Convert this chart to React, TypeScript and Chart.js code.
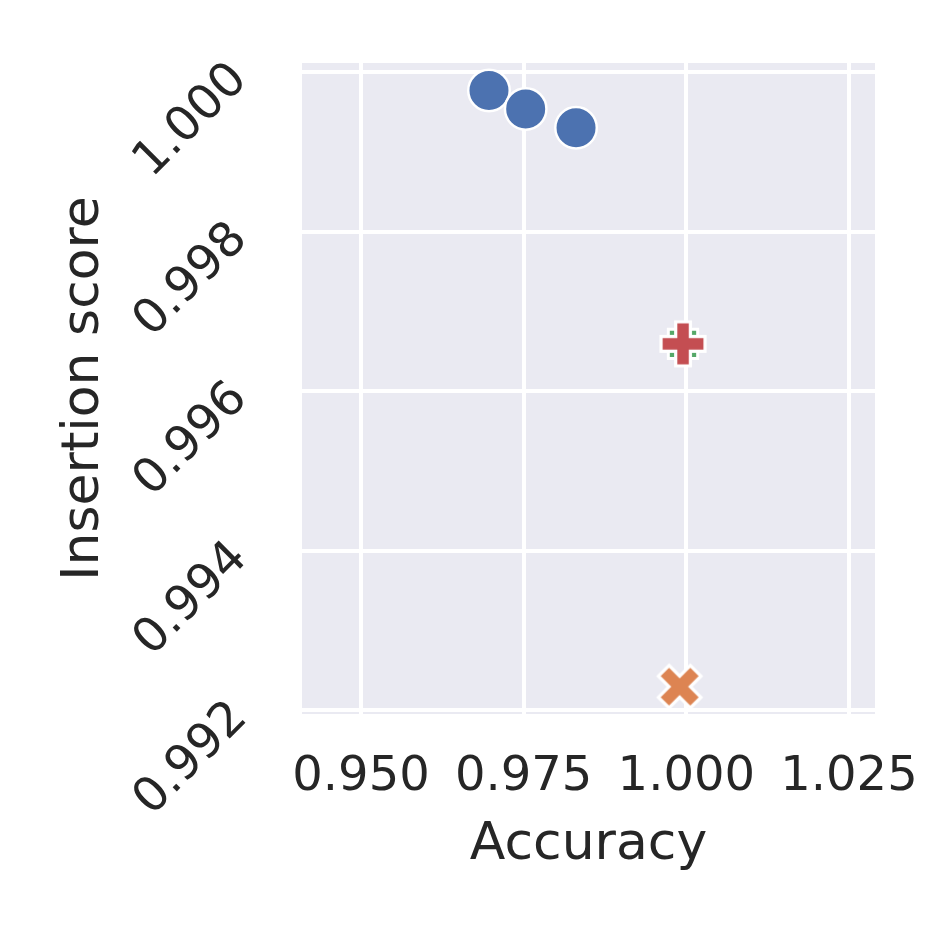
import React, { useEffect, useRef } from "react";
import { Chart, registerables } from "chart.js";

Chart.register(...registerables);

// ---- data ----
const xTicks = [0.95, 0.975, 1.0, 1.025];
const yTicks = [0.992, 0.994, 0.996, 0.998, 1.0];
const xRange = [0.94093, 1.029];
const yRange = [0.991956, 1.000118];

const circleAcc = [0.96967, 0.97531, 0.98305];
const circleIns = [0.999773, 0.999542, 0.999306];
const crossAcc = [0.99898];
const crossIns = [0.992299];
const squareAcc = [0.99949];
const squareIns = [0.996597];
const plusAcc = [0.99949];
const plusIns = [0.996597];

const xTitle = "Accuracy";
const yTitle = "Insertion score";

// ---- styles ----
const BLUE = "#4C72B0";
const ORANGE = "#DD8452";
const GREEN = "#55A868";
const RED = "#C44E52";
const TEXT = "#262626";
const BG = "#EAEAF2";
const FONT = "'DejaVu Sans', sans-serif";

const X_PATH = [[-1, -2], [0, -1], [1, -2], [2, -1], [1, 0], [2, 1], [1, 2], [0, 1], [-1, 2], [-2, 1], [-1, 0], [-2, -1]];
const P_PATH = [[-1, -3], [1, -3], [1, -1], [3, -1], [3, 1], [1, 1], [1, 3], [-1, 3], [-1, 1], [-3, 1], [-3, -1], [-1, -1]];

function makeMarker(path: number[][], unit: number, fill: string, lw: number) {
  const c = document.createElement("canvas");
  c.width = 64;
  c.height = 64;
  const ctx = c.getContext("2d")!;
  ctx.translate(32, 32);
  ctx.beginPath();
  path.forEach(([px, py], i) => {
    if (i === 0) ctx.moveTo(px * unit, py * unit);
    else ctx.lineTo(px * unit, py * unit);
  });
  ctx.closePath();
  ctx.fillStyle = fill;
  ctx.fill();
  ctx.lineWidth = lw;
  ctx.lineJoin = "miter";
  ctx.strokeStyle = "#ffffff";
  ctx.stroke();
  return c;
}

const bgPlugin = {
  id: "plotBg",
  beforeDraw(chart: any) {
    const { ctx, chartArea } = chart;
    if (!chartArea) return;
    ctx.save();
    ctx.fillStyle = BG;
    ctx.fillRect(chartArea.left, chartArea.top, chartArea.right - chartArea.left, chartArea.bottom - chartArea.top);
    ctx.restore();
  },
};

function zeroPad(s: any) {
  s.paddingTop = 0;
  s.paddingBottom = 0;
  s.paddingLeft = 0;
  s.paddingRight = 0;
}

export default function App() {
  const ref = useRef<HTMLCanvasElement>(null);

  useEffect(() => {
    if (!ref.current) return;
    const xImg = makeMarker(X_PATH, 42.5 / 4, ORANGE, 3.2);
    const pImg = makeMarker(P_PATH, 44 / 6, RED, 3.2);
    const toPts = (xs: number[], ys: number[]) => xs.map((x, i) => ({ x, y: ys[i] }));

    const chart = new Chart(ref.current, {
      type: "scatter",
      data: {
        datasets: [
          {
            label: "circle",
            data: toPts(circleAcc, circleIns),
            pointStyle: "circle",
            pointRadius: 20.75,
            backgroundColor: BLUE,
            borderColor: "#ffffff",
            borderWidth: 2.5,
          },
          {
            label: "x",
            data: toPts(crossAcc, crossIns),
            pointStyle: xImg as any,
            pointRadius: 22,
          },
          {
            label: "plus",
            data: toPts(plusAcc, plusIns),
            pointStyle: pImg as any,
            pointRadius: 22,
          },
          {
            label: "square",
            data: toPts(squareAcc, squareIns),
            pointStyle: "rect",
            pointRadius: 20.75,
            backgroundColor: GREEN,
            borderColor: "#ffffff",
            borderWidth: 3,
          },
        ],
      },
      options: {
        responsive: false,
        animation: false,
        devicePixelRatio: 1,
        layout: { padding: { top: 63, right: 59, bottom: 0, left: 0 } },
        plugins: { legend: { display: false }, tooltip: { enabled: false } },
        scales: {
          x: {
            type: "linear",
            min: xRange[0],
            max: xRange[1],
            afterBuildTicks: (s: any) => {
              s.ticks = xTicks.map((v) => ({ value: v }));
            },
            afterFit: (s: any) => {
              s.height = 220;
              zeroPad(s);
            },
            grid: { color: "#ffffff", lineWidth: 4, drawTicks: false },
            border: { display: false },
            ticks: {
              padding: 35,
              autoSkip: false,
              minRotation: 0,
              maxRotation: 0,
              color: TEXT,
              font: { family: FONT, size: 48 },
              callback: (v: any) => Number(v).toFixed(3),
            },
            title: {
              display: true,
              text: xTitle,
              color: TEXT,
              font: { family: FONT, size: 52 },
              padding: { top: 0, bottom: 57 },
            },
          },
          y: {
            type: "linear",
            min: yRange[0],
            max: yRange[1],
            afterBuildTicks: (s: any) => {
              s.ticks = yTicks.map((v) => ({ value: v }));
            },
            afterFit: (s: any) => {
              s.width = 302;
              zeroPad(s);
            },
            grid: { color: "#ffffff", lineWidth: 4, drawTicks: false },
            border: { display: false },
            ticks: {
              padding: 62,
              autoSkip: false,
              minRotation: 45,
              maxRotation: 45,
              color: TEXT,
              font: { family: FONT, size: 48 },
              callback: (v: any) => Number(v).toFixed(3),
            },
            title: {
              display: true,
              text: yTitle,
              color: TEXT,
              font: { family: FONT, size: 52 },
              padding: { top: 53, bottom: 0 },
            },
          },
        },
      },
      plugins: [bgPlugin],
    });
    return () => chart.destroy();
  }, []);

  return (
    <div style={{ position: "absolute", left: 0, top: 0, width: 934, height: 934, background: "#ffffff" }}>
      <canvas ref={ref} width={934} height={934} style={{ display: "block", width: 934, height: 934 }} />
    </div>
  );
}
